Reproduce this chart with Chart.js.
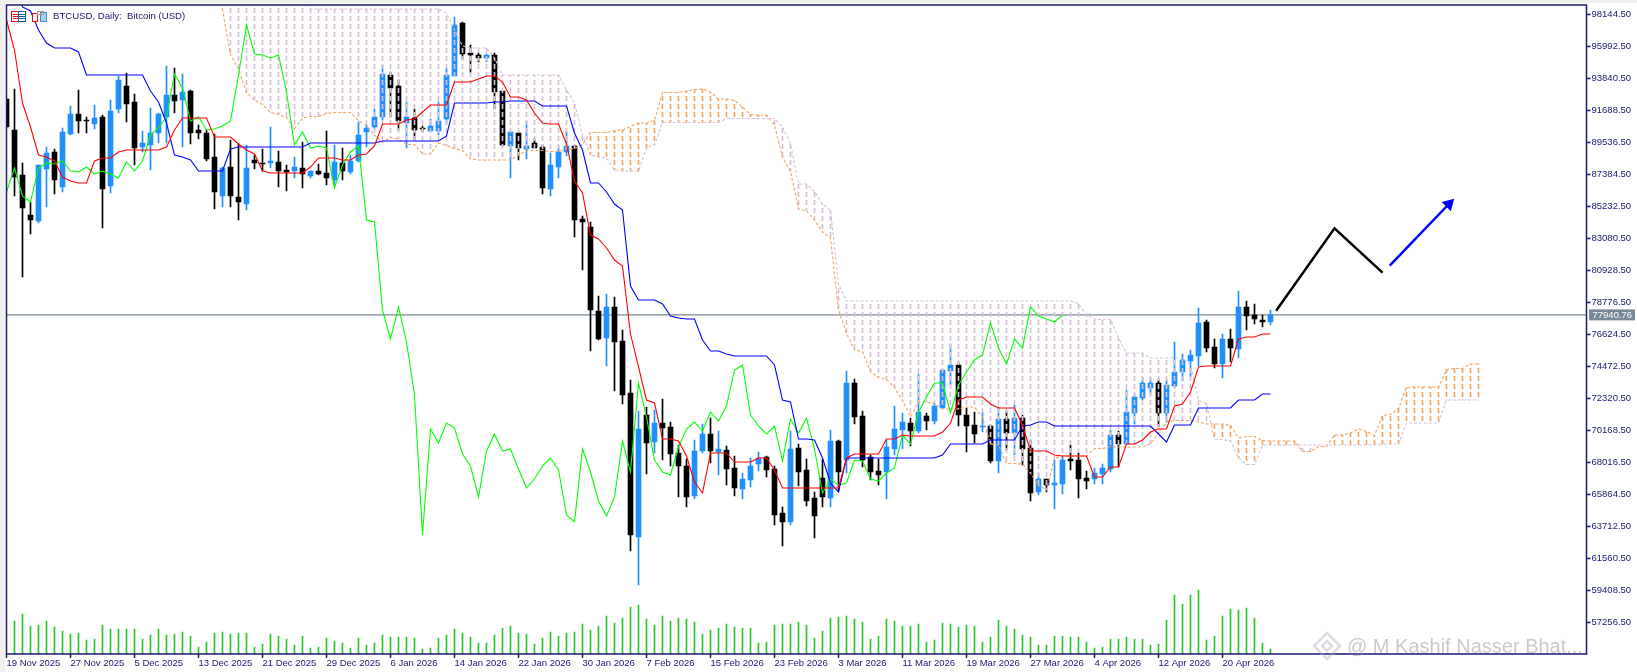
<!DOCTYPE html>
<html>
<head>
<meta charset="utf-8">
<title>BTCUSD Daily</title>
<script src="https://cdn.jsdelivr.net/npm/chart.js@4/dist/chart.umd.min.js"></script>
<style>
  html, body { margin: 0; padding: 0; background: #fff; overflow: hidden; }
  canvas { display: block; }
</style>
</head>
<body>
<canvas id="btcChart" width="1637" height="672"></canvas>
<script>
const opens = [
  92446,90363,87340,84652,84249,87743,88885,86534,90095,91438,
  91035,90766,91237,86601,91774,93320,92245,89221,89356,90162,
  91237,92715,92379,92984,90363,90162,88549,85929,87877,85862,
  85391,88348,88146,88146,88213,87676,87609,87810,87273,87609,
  87474,87004,88146,87542,88280,90229,90565,91237,94059,93320,
  90834,91170,90498,90296,90296,91102,93992,97553,95537,95403,
  95201,95403,92984,89288,90162,89086,89490,89221,86399,87877,
  88885,89288,84383,83846,78202,76388,78471,76186,72692,63017,
  71214,69400,70676,70407,68661,67787,65772,68795,69937,68728,
  68862,67653,66243,66847,67922,68392,67586,64630,64025,68997,
  67519,65638,66981,65638,69467,68190,73364,71147,68392,67451,
  67384,68929,70206,70676,70139,71147,70811,71684,74171,74574,
  71214,70542,70407,70475,68123,70945,70005,71013,68997,66040,
  66914,66511,66578,68258,68190,66981,66914,67250,67586,69870,
  69265,71349,72356,73029,73364,71349,73163,74104,74843,75178,
  77463,75783,74641,76320,75649,78471,77933,77597,77463
]
const highs = [
  92446,93118,88146,85526,88012,89221,89086,90498,91976,93051,
  91237,92043,91371,92379,93992,94193,92782,90296,91841,91506,
  94663,94529,94126,93051,90699,90363,90095,87877,89691,89423,
  89356,88683,89086,90565,88952,88012,88549,89557,87609,88079,
  90296,89356,89154,88683,90901,90699,91774,94731,94260,93723,
  92245,91774,90632,91102,92245,94529,97956,97620,96074,95537,
  95470,95537,92984,90229,90229,90968,89758,89356,88818,89288,
  90296,89356,84585,84182,79210,79344,79143,76925,73566,71483,
  71752,71550,72289,70743,69198,68258,69534,70609,71013,70139,
  69131,68459,67317,68325,68728,68459,67787,65032,70139,69265,
  68258,66040,68258,70206,69534,74171,73633,71483,68527,68258,
  69534,71819,71349,71013,73969,71349,72020,74238,75984,74775,
  71684,71416,71416,70542,71752,71483,71886,71214,69534,67250,
  66914,68190,68459,69198,68661,67451,67653,67922,70206,70139,
  72894,72625,73701,73701,73633,73566,76119,75312,75581,78403,
  77597,76320,76656,76992,79546,78874,78672,77933,78269
]
const lows = [
  90565,85929,80487,83375,84115,85190,86063,86198,90027,90162,
  90162,90431,83779,86131,91506,90901,88012,88885,87676,89490,
  89490,91506,89221,89423,89758,88280,85055,85190,85190,84316,
  84988,87743,87609,87810,86534,86265,87138,86467,87138,87340,
  86668,86668,87004,87407,88213,89221,90431,91035,91237,90363,
  89154,89691,90229,90296,90027,90834,93992,95134,94193,94932,
  94932,91774,89288,87138,88348,88415,89154,86063,85929,87138,
  88616,83174,80957,75514,76253,74507,72827,71953,62076,59792,
  67250,68661,68190,67787,65705,65032,65570,68661,67989,67183,
  66511,65772,65570,66377,67451,67049,63823,62412,63823,66444,
  65100,62950,65032,65032,66108,67317,70609,67720,66847,66511,
  65570,68527,68929,69131,70005,70206,70609,71617,73230,70475,
  68728,69333,70072,67989,67317,68862,68527,67854,65436,65839,
  66040,64899,65906,67519,65638,66243,66578,66578,67384,67720,
  69198,70609,72222,72625,70407,70743,73029,73499,73768,74507,
  75447,74373,73701,74775,75044,76925,77328,77127,77261
]
const closes = [
  90565,87206,85122,84316,88012,88818,87004,90229,91438,90968,
  90968,91170,86399,91640,93723,92110,89154,89490,90162,91438,
  92715,92312,92917,90162,90162,88415,86198,87810,85929,85526,
  87810,88146,88079,88280,87609,87542,87877,87407,87609,87407,
  87138,88213,87609,88280,90027,90498,91237,94126,93185,90968,
  91237,90363,90431,90632,90968,94059,97418,95470,95403,95201,
  95403,92917,89356,90229,89154,89288,89154,86467,88012,88885,
  89288,84316,84182,78269,76320,78471,76119,72558,63151,70273,
  69333,70676,70341,68594,67787,65705,68795,69937,68795,68929,
  67586,66310,66914,67787,68325,67519,64495,64025,68929,67384,
  65436,64428,65705,69467,67384,73364,71080,68190,67384,67183,
  69064,70273,70743,70139,71416,70811,71819,74238,74574,71214,
  70475,69937,70475,68123,70945,70005,71013,68929,65974,66914,
  66511,66645,68190,68123,66914,66780,67317,67653,69870,69265,
  71416,72424,73364,73364,71349,73230,74104,74910,75245,77395,
  75716,74641,76320,75716,78471,77866,77664,77463,77941
]
const tenkan = [
  97754,95738,92177,90565,88683,88549,88280,87206,86937,86802,
  86802,88280,88482,88482,88885,89019,89019,89019,89019,89019,
  89221,90363,91170,91170,91170,91170,89893,89893,89893,89423,
  89019,88751,87609,87474,87474,87474,87474,87474,87877,88482,
  88482,88482,88348,88348,88683,88751,89288,90766,90766,90766,
  91035,91102,91573,92043,92043,92043,93588,93588,93588,93790,
  93992,93992,93588,92581,92581,92379,91506,90834,90766,90766,
  89423,86937,86130,83308,83040,82435,81629,81225,76656,74440,
  72222,72020,69601,69601,69467,68459,66713,65974,68661,68661,
  68661,68057,68057,68057,68325,68325,67519,66310,66310,66310,
  66310,66310,66310,66310,66310,68325,68594,68594,68594,68594,
  69601,69601,69870,69803,69803,69803,69803,70072,70676,72222,
  72424,72424,72424,71953,71684,71684,71684,70542,68795,68795,
  68795,68527,68459,68459,68459,68459,67049,67049,67720,67720,
  69265,69265,69534,70072,70273,70273,71819,71953,72759,74440,
  74506,74506,74506,74506,76320,76455,76455,76656,76656
]
const kijun = [
  101786,101248,98628,98359,97082,96209,95873,95873,95873,95604,
  94059,94059,94059,94059,94059,94059,94059,94059,92984,92245,
  90834,88683,88549,88348,87609,87609,87609,87609,89086,89221,
  89221,89221,89221,89221,89221,89221,89221,89221,89490,89490,
  89490,89490,89490,89490,89490,89490,89490,89625,89625,89625,
  89625,89625,89625,89625,89625,89960,92177,92177,92177,92177,
  92177,92245,92245,92312,92312,92312,92312,91976,91976,91976,
  91976,90162,89019,86802,86802,86198,85391,84988,79882,78941,
  78941,78941,78672,77866,77731,77664,77664,76253,75514,75514,
  75312,75178,75178,75178,75178,75178,74574,72222,72088,69601,
  69601,69534,68325,66645,66040,68325,68325,68325,68325,68325,
  68325,68325,68325,68325,68325,68325,68325,68527,69265,69265,
  69265,69265,69265,69534,69534,69534,69534,70475,70542,70743,
  70743,70475,70475,70475,70475,70475,70475,70475,70475,70475,
  70475,70475,70475,70475,69937,69400,70542,70542,70542,71684,
  71684,71684,71684,71684,72222,72222,72222,72625,72625
]
const chikou = [
  86198,87810,85929,85526,
  87810,88146,88079,88280,87609,87542,87877,87407,87609,87407,
  87138,88213,87609,88280,90027,90498,91237,94126,93185,90968,
  91237,90363,90431,90632,90968,94059,97418,95470,95403,95201,
  95403,92917,89356,90229,89154,89288,89154,86467,88012,88885,
  89288,84316,84182,78269,76320,78471,76119,72558,63151,70273,
  69333,70676,70341,68594,67787,65705,68795,69937,68795,68929,
  67586,66310,66914,67787,68325,67519,64495,64025,68929,67384,
  65436,64428,65705,69467,67384,73364,71080,68190,67384,67183,
  69064,70273,70743,70139,71416,70811,71819,74238,74574,71214,
  70475,69937,70475,68123,70945,70005,71013,68929,65974,66914,
  66511,66645,68190,68123,66914,66780,67317,67653,69870,69265,
  71416,72424,73364,73364,71349,73230,74104,74910,75245,77395,
  75716,74641,76320,75716,78471,77866,77664,77463,77941
]
// cloud starts at bar 27 and runs 26 bars past the last candle
const cloudStart = 27
const spanA = [
  98493,95403,94462,92883,92379,92077,91539,91405,91203,90430,
  91170,91270,91270,91472,91539,91539,91539,91002,90632,90027,
  89523,89859,89758,89389,89389,88751,88751,89490,89322,89120,
  88986,88415,88348,88348,88348,88348,88348,88683,88986,88986,
  88986,88919,88919,89086,89120,89389,90195,90195,90195,90330,
  90363,90598,90834,90834,91002,92883,92883,92883,92984,93085,
  93118,92917,92446,92446,92345,91909,91405,91371,91371,90699,
  88549,87575,85055,84921,84316,83510,83107,78269,76690,75581,
  75481,74137,73734,73599,73062,72189,71113,72088,72088,71987,
  71617,71617,71617,71752,71752,71046,69265,69198,67955,67955,
  67922,67317,66477,66175,68325,68459,68459,68459,68459,68963,
  68963,69098,69064,69064,69064,69064,69299,69971,70743,70844,
  70844,70844,70743,70609,70609,70609,70509,69669,69770,69770,
  69501,69467,69467,69467,69467,68762,68762,69098,69098,69870,
  69870,70005,70273,70105,69836,71181,71248,71651,73062,73096,
  73096,73096,73096,74272,74339,74339,74641,74641
]
const spanB = [
  99434,99434,99434,99434,99434,99434,99434,99434,99434,99434,
  99434,98493,98493,98493,98493,98493,98493,98493,98493,98493,
  98493,98493,98493,98493,98493,98493,98493,98493,98225,97082,
  96007,95873,95873,95873,95201,94059,94059,94059,94059,94059,
  94059,94059,94059,93051,92177,90027,88683,88549,88482,87676,
  87609,87609,87609,89154,89356,90867,90867,90867,90867,90867,
  90867,90867,90867,91136,91136,91136,91136,91136,91136,91136,
  90565,89456,86735,86735,86231,85391,84955,80016,78874,78874,
  78874,78874,78874,78874,78874,78874,78874,78874,78874,78874,
  78874,78874,78874,78874,78874,78874,78874,78874,78874,78874,
  78874,78874,78874,78874,78874,78874,78874,78705,77933,77664,
  77630,77664,76388,75380,75380,75380,75044,75044,75044,75044,
  75044,74574,72189,71987,69568,69568,69467,68359,67888,67888,
  69198,69198,69198,69198,69198,69198,69198,69198,69198,69198,
  69198,69198,69198,69198,69198,69265,69265,69265,70676,70676,
  70676,70676,70676,72222,72222,72222,72222,72222
]
const volumes = [
  null,33,40,28,29,33,27,23,20,21,
  14,15,29,25,25,25,25,15,19,25,
  19,20,22,18,7,12,21,22,20,21,
  21,7,10,20,18,15,9,18,6,7,
  16,13,11,6,16,9,11,19,17,17,
  17,16,5,6,16,19,25,21,17,11,
  11,19,26,28,21,20,10,16,22,18,
  21,22,30,24,28,38,31,36,47,49,
  35,29,38,33,36,35,32,20,24,26,
  30,27,26,26,11,12,29,30,30,32,
  29,16,23,36,37,38,35,32,15,18,
  35,33,28,28,30,12,14,31,30,27,
  29,28,12,17,34,28,25,19,17,9,
  9,18,18,17,17,12,6,7,15,15,
  17,15,15,9,10,34,59,50,59,64,
  14,18,38,45,44,46,36,11,5
]
const priceTicks = [98144.5, 95992.5, 93840.5, 91688.5, 89536.5, 87384.5, 85232.5, 83080.5, 80928.5, 78776.5,
  76624.5, 74472.5, 72320.5, 70168.5, 68016.5, 65864.5, 63712.5, 61560.5, 59408.5, 57256.5]
const dateLabels = ['19 Nov 2025', '27 Nov 2025', '5 Dec 2025', '13 Dec 2025', '21 Dec 2025', '29 Dec 2025',
  '6 Jan 2026', '14 Jan 2026', '22 Jan 2026', '30 Jan 2026', '7 Feb 2026', '15 Feb 2026', '23 Feb 2026',
  '3 Mar 2026', '11 Mar 2026', '19 Mar 2026', '27 Mar 2026', '4 Apr 2026', '12 Apr 2026', '20 Apr 2026']
const dateStep = 8
const lastPrice = 77940.76
// hand drawn lines on the right of the last candle
const zigzagX = [158.7, 166, 172]
const zigzagY = [78222, 83759, 80775]
const arrowX = [172.9, 180.3]
const arrowY = [81246, 85391]

const NAVY = '#191970'
const UP = '#1e90ff'
const DOWN = '#000000'
const SAND = '#f4a460'
const THISTLE = '#d8bfd8'
const GREY = '#778899'
const AXIS_FONT = { family: 'Liberation Sans', size: 9.5 }

function dashPattern(color) {
  const c = document.createElement('canvas')
  c.width = 1
  c.height = 8
  const g = c.getContext('2d')
  g.fillStyle = color
  g.fillRect(0, 0, 1, 5)
  return g.createPattern(c, 'repeat')
}
const sandHatch = dashPattern(SAND)
const thistleHatch = dashPattern(THISTLE)

const barColors = closes.map((c, i) => c >= opens[i] ? UP : DOWN)
const toPoints = (arr, start) => arr.map((y, i) => ({ x: i + start, y: y }))
const lineStyle = { type: 'line', borderWidth: 1.1, pointRadius: 0, tension: 0, fill: false }

const datasets = [
  { ...lineStyle, order: 30, label: 'last', borderColor: GREY,
    data: [{ x: 0, y: lastPrice }, { x: 197.5, y: lastPrice }] },
  { type: 'bar', order: 25, label: 'volume', yAxisID: 'yVol', barThickness: 1, backgroundColor: '#22cc22',
    data: toPoints(volumes, 0) },
  { type: 'bar', order: 20, label: 'wick', barThickness: 1, backgroundColor: barColors,
    data: highs.map((h, i) => ({ x: i, y: [lows[i], h] })) },
  { type: 'bar', order: 19, label: 'body', barThickness: 5, backgroundColor: barColors,
    data: opens.map((o, i) => ({ x: i, y: [o, closes[i]] })) },
  { type: 'bar', order: 10, label: 'cloud', barThickness: 1,
    backgroundColor: spanA.map((a, i) => a > spanB[i] ? sandHatch : thistleHatch),
    data: spanA.map((a, i) => ({ x: i + cloudStart, y: [a, spanB[i]] })) },
  { ...lineStyle, order: 9, label: 'span a', borderColor: SAND, borderDash: [3, 2], data: toPoints(spanA, cloudStart) },
  { ...lineStyle, order: 8, label: 'span b', borderColor: THISTLE, borderDash: [3, 2], data: toPoints(spanB, cloudStart) },
  { ...lineStyle, order: 5, label: 'chikou', borderColor: '#00ff00', data: toPoints(chikou, 0) },
  { ...lineStyle, order: 4, label: 'kijun', borderColor: '#0000ff', data: toPoints(kijun, 0) },
  { ...lineStyle, order: 3, label: 'tenkan', borderColor: '#ff0000', data: toPoints(tenkan, 0) },
  { ...lineStyle, order: 2, label: 'zigzag', borderColor: '#000000', borderWidth: 2.5,
    data: zigzagX.map((x, i) => ({ x: x, y: zigzagY[i] })) },
  { ...lineStyle, order: 1, label: 'arrow', borderColor: '#0000ff', borderWidth: 2.5,
    pointStyle: 'triangle', pointRadius: [0, 5], pointRotation: 45, pointBackgroundColor: '#0000ff', pointBorderColor: '#0000ff',
    data: arrowX.map((x, i) => ({ x: x, y: arrowY[i] })) }
]

const chrome = {
  id: 'chrome',
  beforeDraw(chart) {
    const g = chart.ctx
    g.save()
    g.fillStyle = '#f0f0f0'
    g.fillRect(0, 0, 1637, 3)
    g.fillRect(0, 0, 5, 672)
    g.restore()
  },
  afterDraw(chart) {
    const g = chart.ctx
    const a = chart.chartArea
    g.save()
    // frame
    g.strokeStyle = NAVY
    g.lineWidth = 1.5
    g.strokeRect(a.left, a.top, a.right - a.left, a.bottom - a.top)

    // symbol line with the two small icons
    g.fillStyle = '#fff'
    g.fillRect(11, 11, 15, 11)
    g.fillRect(32, 11, 15, 11)
    g.fillStyle = NAVY
    g.font = '9.6px "Liberation Sans"'
    g.textBaseline = 'middle'
    g.textAlign = 'left'
    g.fillText('BTCUSD, Daily:  Bitcoin (USD)', 53, 16.5)
    g.lineWidth = 1
    g.strokeStyle = '#e01010'
    g.strokeRect(11.5, 11.5, 7, 10)
    g.strokeStyle = '#1060a0'
    g.strokeRect(18.5, 11.5, 7, 10)
    for (const y of [14.5, 16.5, 18.5]) {
      g.strokeStyle = '#e01010'
      g.beginPath(); g.moveTo(13, y); g.lineTo(18, y); g.stroke()
      g.strokeStyle = '#1060a0'
      g.beginPath(); g.moveTo(19, y); g.lineTo(25, y); g.stroke()
    }
    g.strokeStyle = '#e01010'
    g.strokeRect(32.5, 13.5, 5, 8)
    g.fillStyle = '#a8d0f0'
    g.fillRect(40, 12, 7, 10)
    g.strokeStyle = '#5090c0'
    g.strokeRect(40.5, 12.5, 6, 9)
    g.strokeStyle = '#a0a0a0'
    g.strokeRect(37.5, 11.5, 6, 3)

    // last price box on the axis
    const y = chart.scales.y.getPixelForValue(lastPrice)
    g.fillStyle = GREY
    g.fillRect(a.right + 2.5, y - 5.5, 46, 11)
    g.fillStyle = '#fff'
    g.font = '9.5px "Liberation Sans"'
    g.fillText(lastPrice.toFixed(2), a.right + 6, y + 0.5)

    // watermark
    g.globalAlpha = 0.45
    g.fillStyle = '#8f8496'
    g.font = '20px "Liberation Sans"'
    g.fillText('@ M Kashif Nasser Bhat...', 1347, 647)
    g.strokeStyle = '#b8aebd'
    g.lineWidth = 2.5
    const cx = 1327, cy = 646
    g.beginPath()
    g.moveTo(cx - 13, cy); g.lineTo(cx, cy - 13); g.lineTo(cx + 13, cy); g.lineTo(cx, cy + 13); g.closePath()
    g.stroke()
    g.beginPath()
    g.moveTo(cx - 5, cy); g.lineTo(cx, cy - 5); g.lineTo(cx + 5, cy); g.lineTo(cx, cy + 5); g.closePath()
    g.stroke()
    g.restore()
  }
}

new Chart(document.getElementById('btcChart'), {
  type: 'bar',
  data: { datasets: datasets },
  plugins: [chrome],
  options: {
    responsive: false,
    devicePixelRatio: 1,
    animation: false,
    events: [],
    layout: { autoPadding: false, padding: { left: 6.5, top: 5, right: 0, bottom: 0 } },
    datasets: { bar: { grouped: false } },
    plugins: { legend: { display: false }, tooltip: { enabled: false }, title: { display: false } },
    scales: {
      x: {
        type: 'linear',
        min: 0,
        max: 197.5,
        offset: false,
        border: { display: false },
        grid: { drawOnChartArea: false, offset: false, tickLength: 4, tickColor: NAVY, tickWidth: 1.5 },
        ticks: {
          autoSkip: false, maxRotation: 0, align: 'start', padding: 0, color: NAVY, font: AXIS_FONT,
          callback: v => dateLabels[v / dateStep]
        },
        afterBuildTicks: s => { s.ticks = dateLabels.map((d, i) => ({ value: i * dateStep })) },
        afterFit: s => { s.height = 18; s.paddingLeft = 0; s.paddingRight = 0 }
      },
      y: {
        position: 'right',
        min: 55156,
        max: 98762,
        border: { display: false },
        grid: { drawOnChartArea: false, tickLength: 4, tickColor: NAVY, tickWidth: 1.5 },
        ticks: {
          autoSkip: false, padding: 1, color: NAVY, font: AXIS_FONT,
          callback: v => v.toFixed(2)
        },
        afterBuildTicks: s => { s.ticks = priceTicks.map(v => ({ value: v })) },
        afterFit: s => { s.width = 50.5; s.paddingTop = 0; s.paddingBottom = 0 }
      },
      yVol: { display: false, min: 0, max: 649 }
    }
  }
})
</script>
</body>
</html>
